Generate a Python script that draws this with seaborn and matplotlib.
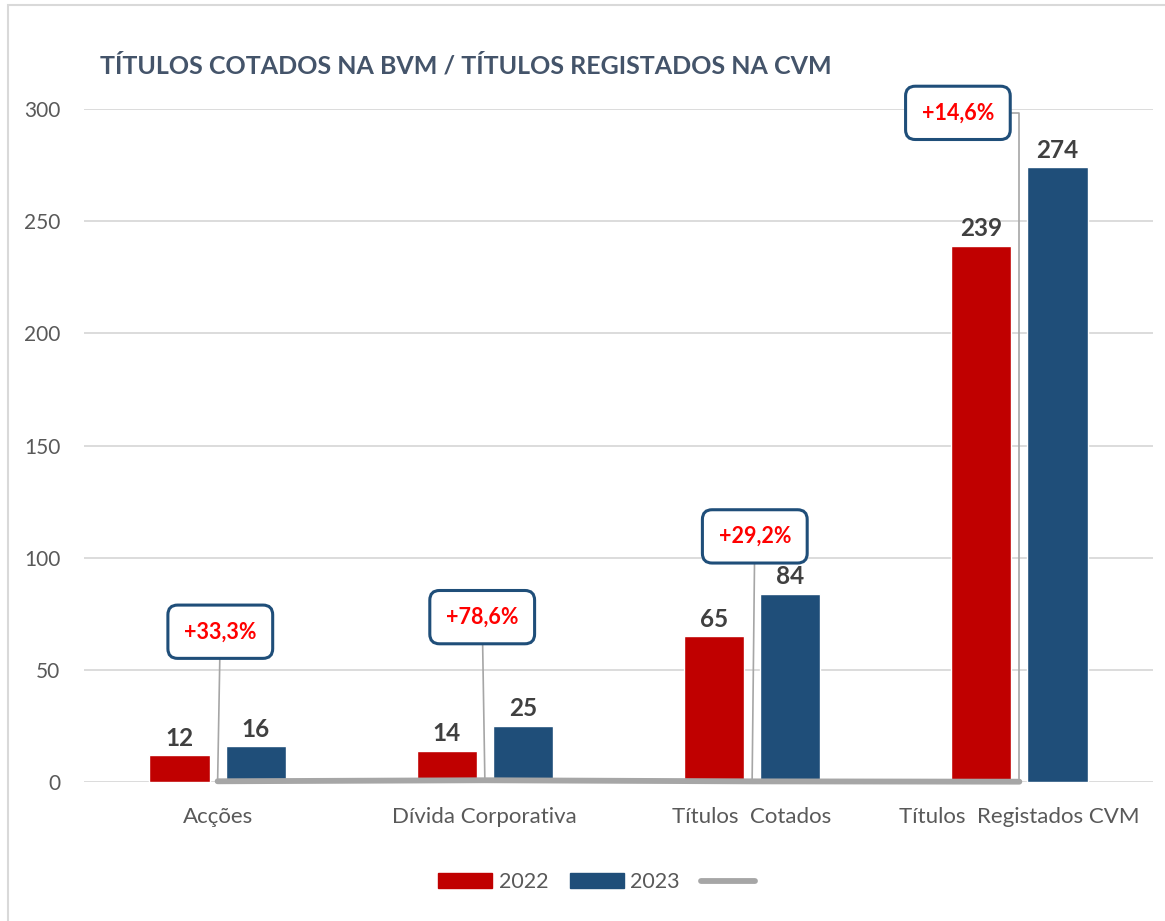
import numpy as np
import pandas as pd
import matplotlib.pyplot as plt
from matplotlib.patches import Patch, Rectangle
from matplotlib.lines import Line2D
import seaborn as sns

# dados
categories = ['Acções', 'Dívida Corporativa', 'Títulos  Cotados', 'Títulos  Registados CVM']
years = ['2022', '2023']
values_2022 = [12, 14, 65, 239]
values_2023 = [16, 25, 84, 274]
growth_pct = [33.3, 78.6, 29.2, 14.6]

red = '#C00000'
blue = '#1F4E79'
grey = '#A6A6A6'
txt_grey = '#595959'

df = pd.DataFrame({
    'categoria': categories * 2,
    'ano': [years[0]] * len(categories) + [years[1]] * len(categories),
    'valor': values_2022 + values_2023,
})

sns.set_theme(style='white')
plt.rcParams['font.family'] = ['Lato', 'DejaVu Sans']

fig = plt.figure(figsize=(11.65, 9.21), dpi=100)
ax = fig.add_axes([0.0721, 0.1509, 0.9176, 0.7307])

sns.barplot(data=df, x='categoria', y='valor', hue='ano', order=categories,
            hue_order=years, palette=[red, blue], saturation=1,
            width=0.57, gap=0.21, legend=False, ax=ax)

for cont in ax.containers:
    ax.bar_label(cont, fmt='%d', padding=4, fontsize=17.5, fontweight='bold', color='#404040')

# linha de variação (valores em fracção, quase zero no eixo)
sns.lineplot(x=np.arange(len(categories)), y=np.array(growth_pct) / 100, color=grey,
             lw=4.2, solid_capstyle='round', ax=ax, zorder=3, clip_on=False)

# caixas com a variação
callout_pos = [(0.01, 67), (0.99, 73.5), (2.01, 109.5), (2.77, 298.3)]
for i, p in enumerate(growth_pct):
    lab = ('+%.1f%%' % p).replace('.', ',')
    conn = 'angle,angleA=0,angleB=90,rad=0' if i == 3 else 'arc3'
    ax.annotate(lab, xy=(i, p / 100), xytext=callout_pos[i], ha='center', va='center',
                fontsize=15.5, fontweight='bold', color='#FF0000', zorder=5,
                bbox=dict(boxstyle='round,pad=0.75,rounding_size=0.45', fc='white', ec=blue, lw=2.2),
                arrowprops=dict(arrowstyle='-', color=grey, lw=1.2, shrinkA=0, shrinkB=0,
                                connectionstyle=conn))

ax.set_xlim(-0.5, len(categories) - 0.5)
ax.set_ylim(0, 300)
ax.set_yticks(range(0, 301, 50))
ax.yaxis.grid(True, color='#D9D9D9', lw=1.3)
ax.set_axisbelow(True)
for s in ax.spines.values():
    s.set_visible(False)
ax.set_xlabel('')
ax.set_ylabel('')
ax.tick_params(axis='y', length=0, pad=17, labelsize=15, labelcolor=txt_grey)
ax.tick_params(axis='x', length=0, pad=18, labelsize=16, labelcolor=txt_grey)

fig.text(0.0858, 0.9283, 'TÍTULOS COTADOS NA BVM / TÍTULOS REGISTADOS NA CVM',
         ha='left', va='center', fontsize=18, fontweight='bold', color='#44546A')

handles = [Patch(color=red), Patch(color=blue),
           Line2D([], [], color=grey, lw=4.2, solid_capstyle='round')]
fig.legend(handles, years + [''], loc='center', bbox_to_anchor=(0.515, 0.0423), ncol=3,
           frameon=False, fontsize=15.5, handlelength=2.5, handletextpad=0.3,
           columnspacing=1.0, labelcolor=txt_grey)

# moldura clara
fig.patches.append(Rectangle((0.0069, -0.05), 1.1, 1.0446, transform=fig.transFigure,
                             fill=False, ec='#D9D9D9', lw=1.5))

fig.savefig('out.png', dpi=100)
